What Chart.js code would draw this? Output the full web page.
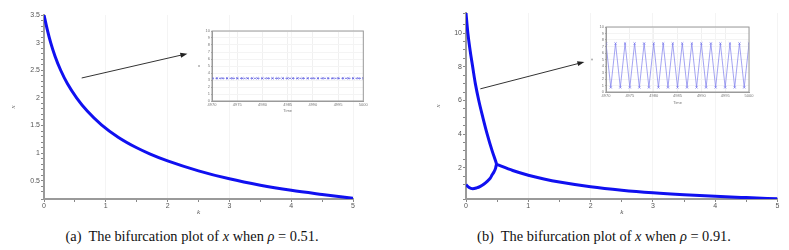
<!DOCTYPE html>
<html>
<head>
<meta charset="utf-8">
<script src="https://cdn.jsdelivr.net/npm/chart.js@4.4.1/dist/chart.umd.min.js"></script>
<style>
  html, body { margin: 0; padding: 0; background: #fff; }
  #wrap { position: relative; width: 789px; height: 250px; overflow: hidden; }
  canvas { position: absolute; }
  .cap { position: absolute; top: 228px; font-family: "Liberation Serif", serif; font-size: 14.4px; color: #111;
         white-space: nowrap; transform: translateX(-50%); }
  .cap i { font-style: italic; }
</style>
</head>
<body>
<div id="wrap">
  <canvas id="mainA" width="390" height="225" style="left:0;top:0"></canvas>
  <canvas id="mainB" width="389" height="225" style="left:400px;top:0"></canvas>
  <canvas id="insetA" width="175" height="90" style="left:195px;top:24px"></canvas>
  <canvas id="insetB" width="168" height="86" style="left:588px;top:20px"></canvas>
  <div class="cap" style="left:192px">(a)&nbsp; The bifurcation plot of <i>x</i> when <i>ρ</i> = 0.51.</div>
  <div class="cap" style="left:604px">(b)&nbsp; The bifurcation plot of <i>x</i> when <i>ρ</i> = 0.91.</div>
</div>
<script>
// panel (a): rho = 0.51
const leftK = [0, 0.05, 0.108, 0.18, 0.27, 0.38, 0.53, 0.7, 0.93, 1.2, 1.5, 1.71, 2, 2.5, 3, 3.5, 4, 4.5, 5];
const leftX = [3.5, 3.25, 3.0, 2.75, 2.5, 2.255, 1.997, 1.762, 1.513, 1.289, 1.097, 0.988, 0.86, 0.68, 0.535, 0.42, 0.328, 0.253, 0.183];

// panel (b): rho = 0.91, two branches then one
const upperK = [0, 0.03, 0.065, 0.107, 0.15, 0.205, 0.27, 0.34, 0.42, 0.475, 0.49];
const upperX = [11.2, 10, 9, 8, 7, 6, 5, 4, 3, 2.4, 2.22];
const lowerK = [0, 0.05, 0.107, 0.17, 0.23, 0.29, 0.34, 0.39, 0.42, 0.45, 0.475, 0.49];
const lowerX = [0.99, 0.82, 0.75, 0.8, 0.89, 1.03, 1.19, 1.38, 1.58, 1.76, 1.98, 2.22];
const tailK = [0.49, 0.75, 1, 1.25, 1.5, 2, 2.5, 3, 3.5, 4, 4.5, 5];
const tailX = [2.2, 1.836, 1.556, 1.331, 1.146, 0.866, 0.661, 0.506, 0.389, 0.299, 0.224, 0.154];

// insets: time series at the end of the run
const insetTime = [4970, 4971, 4972, 4973, 4974, 4975, 4976, 4977, 4978, 4979, 4980,
  4981, 4982, 4983, 4984, 4985, 4986, 4987, 4988, 4989, 4990,
  4991, 4992, 4993, 4994, 4995, 4996, 4997, 4998, 4999, 5000];
const insetAX = [3.24, 3.24, 3.24, 3.24, 3.24, 3.24, 3.24, 3.24, 3.24, 3.24, 3.24,
  3.24, 3.24, 3.24, 3.24, 3.24, 3.24, 3.24, 3.24, 3.24, 3.24,
  3.24, 3.24, 3.24, 3.24, 3.24, 3.24, 3.24, 3.24, 3.24, 3.24];
const insetBX = [7.47, 0.7, 7.47, 0.7, 7.47, 0.7, 7.47, 0.7, 7.47, 0.7, 7.47,
  0.7, 7.47, 0.7, 7.47, 0.7, 7.47, 0.7, 7.47, 0.7, 7.47,
  0.7, 7.47, 0.7, 7.47, 0.7, 7.47, 0.7, 7.47, 0.7, 7.47];

const BLUE = "#1010f0";
const pts = (xs, ys) => xs.map((v, i) => ({ x: v, y: ys[i] }));
const onStep = (v, s) => Math.abs(v / s - Math.round(v / s)) < 1e-6;

// arrow from one data point to another, drawn in the main chart's units
const arrowPlugin = {
  id: "arrow",
  afterDraw(chart, args, opts) {
    if (!opts.from) return;
    const { x, y } = chart.scales;
    const x0 = x.getPixelForValue(opts.from[0]), y0 = y.getPixelForValue(opts.from[1]);
    const x1 = x.getPixelForValue(opts.to[0]), y1 = y.getPixelForValue(opts.to[1]);
    const a = Math.atan2(y1 - y0, x1 - x0);
    const c = chart.ctx;
    c.save();
    c.strokeStyle = "#333";
    c.fillStyle = "#222";
    c.lineWidth = 1;
    c.beginPath();
    c.moveTo(x0, y0);
    c.lineTo(x1 - 5 * Math.cos(a), y1 - 5 * Math.sin(a));
    c.stroke();
    c.beginPath();
    c.moveTo(x1, y1);
    c.lineTo(x1 - 7 * Math.cos(a) + 2.5 * Math.sin(a), y1 - 7 * Math.sin(a) - 2.5 * Math.cos(a));
    c.lineTo(x1 - 7 * Math.cos(a) - 2.5 * Math.sin(a), y1 - 7 * Math.sin(a) + 2.5 * Math.cos(a));
    c.closePath();
    c.fill();
    c.restore();
  }
};

const boxPlugin = {
  id: "box",
  afterDraw(chart, args, opts) {
    if (!opts.on) return;
    const a = chart.chartArea, c = chart.ctx;
    c.save();
    c.strokeStyle = "#9a9a9a";
    c.lineWidth = 1;
    c.strokeRect(a.left, a.top, a.right - a.left, a.bottom - a.top);
    c.restore();
  }
};

function mainChart(id, datasets, o) {
  return new Chart(document.getElementById(id), {
    type: "scatter",
    data: { datasets },
    plugins: [arrowPlugin],
    options: {
      responsive: false,
      animation: false,
      layout: { padding: { left: o.padLeft, top: o.padTop, right: o.padRight, bottom: 0 } },
      plugins: { legend: { display: false }, tooltip: { enabled: false }, arrow: o.arrow },
      elements: { point: { radius: 0 }, line: { borderWidth: 3, borderColor: BLUE, cubicInterpolationMode: "monotone" } },
      scales: {
        x: {
          type: "linear", min: 0, max: 5,
          afterFit: (s) => { s.height = 26; },
          border: { color: "#9a9a9a", width: 2 },
          grid: { color: (c) => (c.tick && onStep(c.tick.value, 1) ? "#f4f4f4" : "rgba(0,0,0,0)"), tickColor: "#888", tickLength: 3 },
          ticks: {
            stepSize: 0.5, autoSkip: false, maxRotation: 0, padding: 0, color: "#555",
            font: { family: "Liberation Sans", size: 7 },
            callback: (v) => (onStep(v, 1) ? String(v) : "")
          },
          title: { display: true, text: "k", color: "#555", font: { family: "Liberation Serif", size: 7, style: "italic" }, padding: { top: 0, bottom: 9 } }
        },
        y: {
          type: "linear", min: o.yMin, max: o.yMax,
          afterFit: (s) => { s.width = o.yWidth; },
          border: { color: "#9a9a9a", width: 2 },
          grid: { color: "rgba(0,0,0,0)", tickColor: "#888", tickLength: 3 },
          ticks: {
            stepSize: o.yStep, autoSkip: false, padding: 1, color: "#555",
            font: { family: "Liberation Sans", size: 7 },
            callback: (v) => (onStep(v, o.yLabel) ? String(v) : "")
          },
          title: { display: true, text: "x", color: "#555", font: { family: "Liberation Serif", size: 7, style: "italic" }, padding: { top: o.titlePad, bottom: 0 } }
        }
      }
    }
  });
}

function insetChart(id, data, o) {
  return new Chart(document.getElementById(id), {
    type: "line",
    data: {
      datasets: [{
        data: pts(insetTime, data),
        borderColor: o.color, borderWidth: o.lineWidth, borderDash: o.dash,
        pointStyle: "crossRot", pointRadius: 1.6, pointBorderColor: o.color, pointBorderWidth: 0.8,
        tension: 0
      }]
    },
    plugins: [boxPlugin],
    options: {
      responsive: false,
      animation: false,
      layout: { padding: { left: 0, top: o.padTop, right: o.padRight, bottom: 0 } },
      plugins: { legend: { display: false }, tooltip: { enabled: false }, box: { on: true } },
      scales: {
        x: {
          type: "linear", min: 4970, max: 5000,
          afterFit: (s) => { s.height = o.xHeight; },
          border: { color: "#9a9a9a" },
          grid: { color: "#f0f0f0", tickColor: "#aaa", tickLength: 1 },
          ticks: {
            stepSize: 5, autoSkip: false, maxRotation: 0, padding: 0.5, color: "#777",
            font: { family: "Liberation Sans", size: 4 }, callback: (v) => String(v)
          },
          title: { display: true, text: "Time", color: "#777", font: { family: "Liberation Sans", size: 4 }, padding: { top: 0, bottom: 1 } }
        },
        y: {
          type: "linear", min: 0, max: 10,
          afterFit: (s) => { s.width = o.yWidth; },
          border: { color: "#9a9a9a" },
          grid: { color: "#f4f4f4", tickColor: "#aaa", tickLength: 1 },
          ticks: { stepSize: 1, autoSkip: false, padding: 1, color: "#777", font: { family: "Liberation Sans", size: 4 } },
          title: { display: true, text: "x", color: "#777", font: { family: "Liberation Sans", size: 4 }, padding: { top: 1, bottom: 0 } }
        }
      }
    }
  });
}

mainChart("mainA", [{ data: pts(leftK, leftX), showLine: true }], {
  padLeft: 8, padTop: 15, padRight: 37, yWidth: 36, titlePad: 1,
  yMin: 0.17, yMax: 3.5, yStep: 0.1, yLabel: 0.5,
  arrow: { from: [0.61, 2.36], to: [2.32, 2.8] }
});

mainChart("mainB", [
  { data: pts(upperK, upperX), showLine: true },
  { data: pts(lowerK, lowerX), showLine: true },
  { data: pts(tailK, tailX), showLine: true }
], {
  padLeft: 30, padTop: 13, padRight: 11.5, yWidth: 36, titlePad: 4,
  yMin: 0.14, yMax: 11.2, yStep: 0.5, yLabel: 2,
  arrow: { from: [0.23, 6.69], to: [1.9, 8.29] }
});

insetChart("insetA", insetAX, { color: "rgba(90,90,225,0.85)", lineWidth: 1, dash: [2, 1.5], padTop: 7, padRight: 6.7, yWidth: 17, xHeight: 13 });
insetChart("insetB", insetBX, { color: "rgba(120,120,235,0.85)", lineWidth: 0.8, dash: [], padTop: 7, padRight: 7, yWidth: 18, xHeight: 14 });
</script>
</body>
</html>
